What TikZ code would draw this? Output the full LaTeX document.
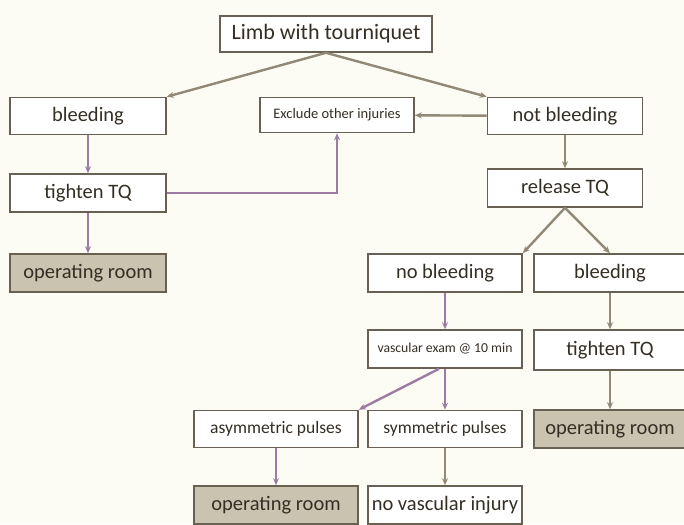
\documentclass[tikz,border=0pt]{standalone}
\usepackage{fontspec}
\setmainfont{Carlito}
\usetikzlibrary{arrows.meta, positioning}
\definecolor{boxline}{RGB}{104, 96, 82}
\definecolor{boxtext}{RGB}{52, 46, 36}
\definecolor{linkgray}{RGB}{146, 136, 118}
\definecolor{linkpurple}{RGB}{156, 124, 164}
\definecolor{orfill}{RGB}{202, 195, 176}
\definecolor{paper}{RGB}{252, 252, 245}

\begin{document}
\begin{tikzpicture}[x=1pt, y=-1pt, >={Stealth[length=7pt, width=6pt]},
    box/.style={rectangle, draw=boxline, line width=1.6pt, fill=white,
                minimum width=154pt, minimum height=37pt, inner sep=2pt,
                align=center, text=boxtext, font=\fontsize{20.5}{24}\selectfont},
    orbox/.style={box, fill=orfill},
    link/.style={->, line width=2.4pt, draw=linkgray},
    plink/.style={link, draw=linkpurple}]

    % page
    \fill[paper] (0,0) rectangle (684,524);
    \useasboundingbox (0,0) rectangle (684,524);

    % top
    \node[box, minimum width=212pt, minimum height=36pt, font=\fontsize{22}{25}\selectfont] (limb) at (326,34) {Limb with tourniquet};

    % left branch
    \node[box, minimum width=156pt] (bleedL) at (88,116) {bleeding};
    \node[box, minimum width=156pt, minimum height=38pt] (tightL) at (88,193) {tighten TQ};
    \node[orbox, minimum width=156pt, minimum height=38pt] (orL) at (88,273) {operating room};

    % middle
    \node[box, minimum height=35pt, font=\fontsize{14.5}{17}\selectfont] (exclude) at (337,115) {Exclude other injuries};

    % right branch
    \node[box, minimum width=155pt] (notbleed) at (565,116) {not bleeding};
    \node[box, minimum width=155pt, minimum height=38pt] (release) at (565,188) {release TQ};

    \node[box, minimum height=38pt] (nobleed) at (445,273) {no bleeding};
    \node[box, minimum width=152pt, minimum height=38pt] (bleedR) at (610,273) {bleeding};

    \node[box, minimum height=38pt, font=\fontsize{13.7}{16}\selectfont] (vasc) at (445,349) {vascular exam @ 10 min};
    \node[box, minimum width=152pt, minimum height=40pt] (tightR) at (610,350) {tighten TQ};

    \node[box, minimum width=164pt, font=\fontsize{17.5}{20}\selectfont] (asym) at (276,429) {asymmetric pulses};
    \node[box, font=\fontsize{17.5}{20}\selectfont] (sym) at (445,429) {symmetric pulses};
    \node[orbox, minimum width=152pt, minimum height=38pt] (orR) at (610,429) {operating room};

    \node[orbox, minimum width=164pt, minimum height=38pt] (orB) at (276,505) {operating room};
    \node[box, minimum height=38pt] (novasc) at (445,505) {no vascular injury};

    % Arrows
    \draw[link] (limb.south) -- (bleedL.north east);
    \draw[link] (limb.south) -- (notbleed.north west);
    \draw[plink] (bleedL) -- (tightL);
    \draw[plink] (tightL) -- (orL);
    \draw[plink] (tightL.east) -| (exclude.south);
    \draw[link] (notbleed) -- (exclude);
    \draw[link] (notbleed) -- (release);
    \draw[link] (release.south) -- (nobleed.north east);
    \draw[link] (release.south) -- (bleedR.north);
    \draw[plink] (nobleed) -- (vasc);
    \draw[link] (bleedR) -- (tightR);
    \draw[link] (tightR) -- (orR);
    \draw[plink] ([xshift=-6pt]vasc.south) -- (asym.north east);
    \draw[plink] (vasc) -- (sym);
    \draw[plink] (asym.south -| orB) -- (orB);
    \draw[link] (sym) -- (novasc);
\end{tikzpicture}
\end{document}
